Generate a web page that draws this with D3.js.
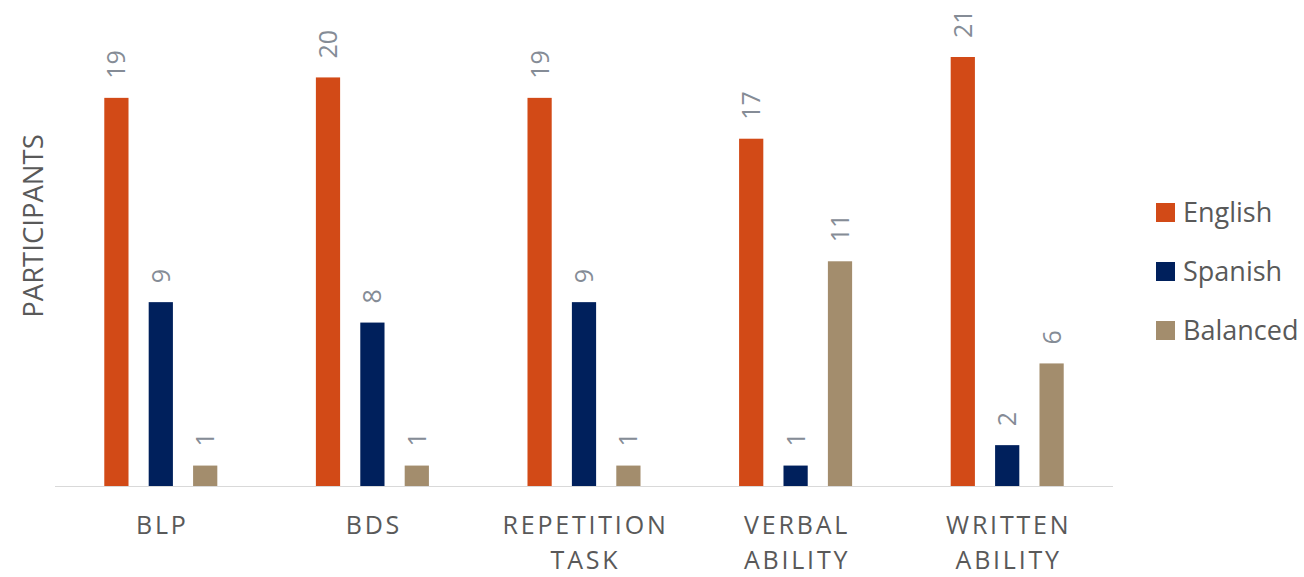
<!DOCTYPE html>
<html><head><meta charset="utf-8">
<script src="https://cdn.jsdelivr.net/npm/d3@7"></script>
<style>body{margin:0;background:#fff}svg{display:block}</style>
</head><body>
<svg id="chart" width="1304" height="577"></svg>
<script>
const categories = [["BLP"], ["BDS"], ["REPETITION", "TASK"], ["VERBAL", "ABILITY"], ["WRITTEN", "ABILITY"]];
const seriesNames = ["English", "Spanish", "Balanced"];
const english = [19, 20, 19, 17, 21];
const spanish = [9, 8, 9, 1, 2];
const balanced = [1, 1, 1, 11, 6];
const colors = ["#D24A17", "#00205C", "#A38D6D"];
const yTitle = "PARTICIPANTS";

const values = [english, spanish, balanced];
const svg = d3.select("#chart");
const font = "'Open Sans', sans-serif";

const x0 = d3.scaleBand().domain(d3.range(categories.length)).range([55, 1113]).paddingInner(0).paddingOuter(0);
const x1 = d3.scaleBand().domain(seriesNames).range([0, x0.bandwidth()]).paddingInner(0.4545).paddingOuter(1.11);
const y = d3.scaleLinear().domain([0, 21]).range([486, 57]);

// axis line
svg.append("line").attr("x1", 55).attr("x2", 1113).attr("y1", y(0) + 0.5).attr("y2", y(0) + 0.5)
  .attr("stroke", "#d9d9d9").attr("stroke-width", 1.2);

const groups = svg.selectAll("g.cat").data(categories).join("g")
  .attr("class", "cat").attr("transform", (d, i) => `translate(${x0(i)},0)`);

seriesNames.forEach((s, si) => {
  groups.append("rect")
    .attr("x", x1(s)).attr("width", x1.bandwidth())
    .attr("y", (d, i) => y(values[si][i]))
    .attr("height", (d, i) => y(0) - y(values[si][i]))
    .attr("fill", colors[si]);
  groups.append("text")
    .attr("transform", (d, i) => `translate(${x1(s) + x1.bandwidth() / 2},${y(values[si][i]) - 19}) rotate(-90)`)
    .attr("dy", "0.36em")
    .attr("text-anchor", "start")
    .attr("font-family", font).attr("font-size", 25)
    .attr("fill", "#858c96")
    .text((d, i) => values[si][i]);
});

// category labels
groups.each(function(d) {
  const g = d3.select(this);
  d.forEach((line, li) => {
    g.append("text")
      .attr("x", x0.bandwidth() / 2 + 1.5).attr("y", 534 + li * 35)
      .attr("text-anchor", "middle")
      .attr("font-family", font).attr("font-size", 25)
      .attr("letter-spacing", "2.8px")
      .attr("fill", "#595959")
      .text(line);
  });
});

// y title
svg.append("text")
  .attr("transform", "translate(43,226) rotate(-90)")
  .attr("text-anchor", "middle")
  .attr("font-family", font).attr("font-size", 27.5)
  .attr("fill", "#595959")
  .text(yTitle);

// legend
const leg = svg.selectAll("g.leg").data(seriesNames).join("g")
  .attr("class", "leg").attr("transform", (d, i) => `translate(1156,${203 + i * 59})`);
leg.append("rect").attr("width", 19).attr("height", 19).attr("fill", (d, i) => colors[i]);
leg.append("text").attr("x", 27).attr("y", 19)
  .attr("font-family", font).attr("font-size", 27)
  .attr("fill", "#595959").text(d => d);
</script>
</body></html>
